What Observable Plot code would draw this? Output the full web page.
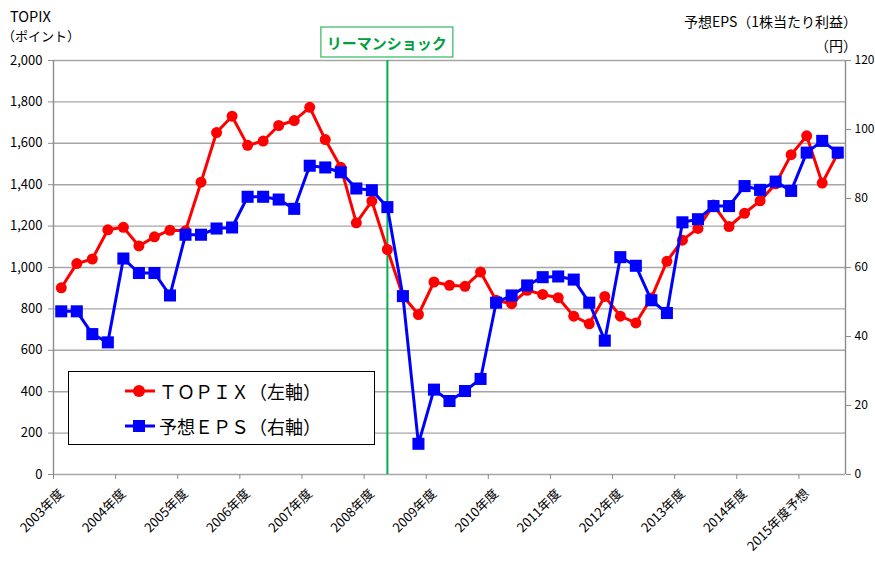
<!DOCTYPE html>
<html><head><meta charset="utf-8">
<script src="https://cdn.jsdelivr.net/npm/d3@7"></script>
<script src="https://cdn.jsdelivr.net/npm/@observablehq/plot@0.6"></script>
<style>
body{margin:0;background:#fff;font-family:"Noto Sans CJK JP","Noto Sans",sans-serif;}
#wrap{position:relative;width:875px;height:562px;overflow:hidden;background:#fff}
.t{position:absolute;font-size:13px;color:#000;white-space:nowrap;line-height:1}
#legend{position:absolute;left:68px;top:371px;width:305px;height:72px;border:1.3px solid #000;background:#fff}
.li{position:absolute;left:56px;display:flex;align-items:center;font-size:18px;letter-spacing:0px}
</style></head><body><div id="wrap"></div>
<script>
// Quarterly values, FY2003 Q1 .. FY2015 Q3 (forecast)
const topix = [902,1019,1041,1182,1194,1104,1148,1180,1177,1412,1652,1731,1590,1611,1686,1710,1774,1618,1484,1216,1321,1087,862,773,930,914,909,978,842,825,890,870,854,765,728,860,765,732,853,1030,1132,1189,1302,1198,1262,1322,1404,1545,1636,1408,1550];
const eps = [47.3,47.3,40.7,38.3,62.6,58.4,58.4,51.9,69.5,69.5,71.3,71.6,80.5,80.5,79.7,77.0,89.5,89.0,87.6,82.9,82.4,77.5,51.7,8.9,24.6,21.3,24.2,27.7,49.8,51.9,54.8,57.2,57.4,56.5,49.8,38.8,63.0,60.5,50.5,46.8,73.1,74.0,77.8,77.8,83.6,82.5,84.9,82.2,93.3,96.7,93.3];
const xLabels = ["2003年度","2004年度","2005年度","2006年度","2007年度","2008年度","2009年度","2010年度","2011年度","2012年度","2013年度","2014年度","2015年度予想"];
const xTickPos = [0,4,8,12,16,20,24,28,32,36,40,44,48];
const yTicks = [0,200,400,600,800,1000,1200,1400,1600,1800,2000];
const epsTicks = [0,20,40,60,80,100,120];
const lehmanIndex = 21;
const lehmanLabel = "リーマンショック";

const k = 2000/120;
const data = topix.map((v,i)=>({i:i+0.5, topix:v, eps:eps[i]*k}));
const FONT = '"Noto Sans CJK JP","Noto Sans",sans-serif';

const plot = Plot.plot({
  width:875, height:562,
  marginLeft:53, marginRight:30, marginTop:60, marginBottom:88,
  x:{domain:[0,51]}, y:{domain:[0,2000]},
  style:{fontFamily:FONT, fontSize:"13px", color:"#000", background:"#fff", overflow:"visible"},
  marks:[
    Plot.ruleY(yTicks,{stroke:"#a6a6a6",strokeWidth:1.4}),
    Plot.ruleX([0,51],{stroke:"#8c8c8c",strokeWidth:1.4}),
    Plot.axisY({anchor:"left",ticks:yTicks,tickFormat:d3.format(","),tickSize:5,tickPadding:6,stroke:"#8c8c8c",fontSize:13,label:null}),
    Plot.axisY({anchor:"right",ticks:epsTicks.map(v=>v*k),tickFormat:d=>String(Math.round(d/k)),tickSize:5,tickPadding:4,stroke:"#8c8c8c",fontSize:12,label:null}),
    Plot.axisX({ticks:xTickPos,tickSize:5,tickFormat:()=>"",stroke:"#8c8c8c",label:null}),
    Plot.text(xTickPos,{x:d=>d,frameAnchor:"bottom",text:(d,i)=>xLabels[i],rotate:-45,textAnchor:"end",lineAnchor:"middle",dx:8,dy:17,fontSize:13}),
    Plot.ruleX([lehmanIndex+0.5],{stroke:"#00b050",strokeWidth:2}),
    Plot.line(data,{x:"i",y:"topix",stroke:"#ff0000",strokeWidth:3}),
    Plot.dot(data,{x:"i",y:"topix",r:5.5,fill:"#ff0000"}),
    Plot.line(data,{x:"i",y:"eps",stroke:"#0000ff",strokeWidth:3}),
    Plot.dot(data,{x:"i",y:"eps",symbol:"square",r:6.8,fill:"#0000ff"})
  ]
});

const wrap = document.getElementById("wrap");
wrap.appendChild(plot);

// Lehman shock label box
const svg = d3.select(plot);
const cx = plot.scale("x").apply(lehmanIndex+0.5);
const g = svg.append("g");
g.append("rect").attr("x",cx-66).attr("y",27).attr("width",132).attr("height",30)
 .attr("fill","#fff").attr("stroke","#2eb85c").attr("stroke-width",1.2);
g.append("text").attr("x",cx).attr("y",42).attr("text-anchor","middle").attr("dominant-baseline","central")
 .attr("fill","#00a040").attr("font-weight","bold").attr("font-size",15).attr("font-family",FONT).text(lehmanLabel);

// axis titles
function addText(html, style){const d=document.createElement("div");d.className="t";d.innerHTML=html;Object.assign(d.style,style);wrap.appendChild(d);}
addText("TOPIX",{left:"10px",top:"9px",fontSize:"14.5px"});
addText("（ポイント）",{left:"2px",top:"29px",fontSize:"13px"});
addText("予想EPS（1株当たり利益）",{right:"18px",top:"14px",fontSize:"14px"});
addText("（円）",{right:"18px",top:"38px",fontSize:"14px"});

// legend
const lg = document.createElement("div"); lg.id="legend"; wrap.appendChild(lg);
function item(top,color,square,label){
  const d=document.createElement("div");d.className="li";d.style.top=top+"px";
  const m = square ? `<rect x="8" y="7" width="12" height="12" fill="${color}"/>` : `<circle cx="14" cy="13" r="6" fill="${color}"/>`;
  d.innerHTML=`<svg width="30" height="26" style="margin-right:4px"><line x1="0" y1="13" x2="30" y2="13" stroke="${color}" stroke-width="3"/>${m}</svg><span>${label}</span>`;
  lg.appendChild(d);
}
item(6,"#ff0000",false,"ＴＯＰＩＸ（左軸）");
item(41,"#0000ff",true,"予想ＥＰＳ（右軸）");
</script></body></html>
